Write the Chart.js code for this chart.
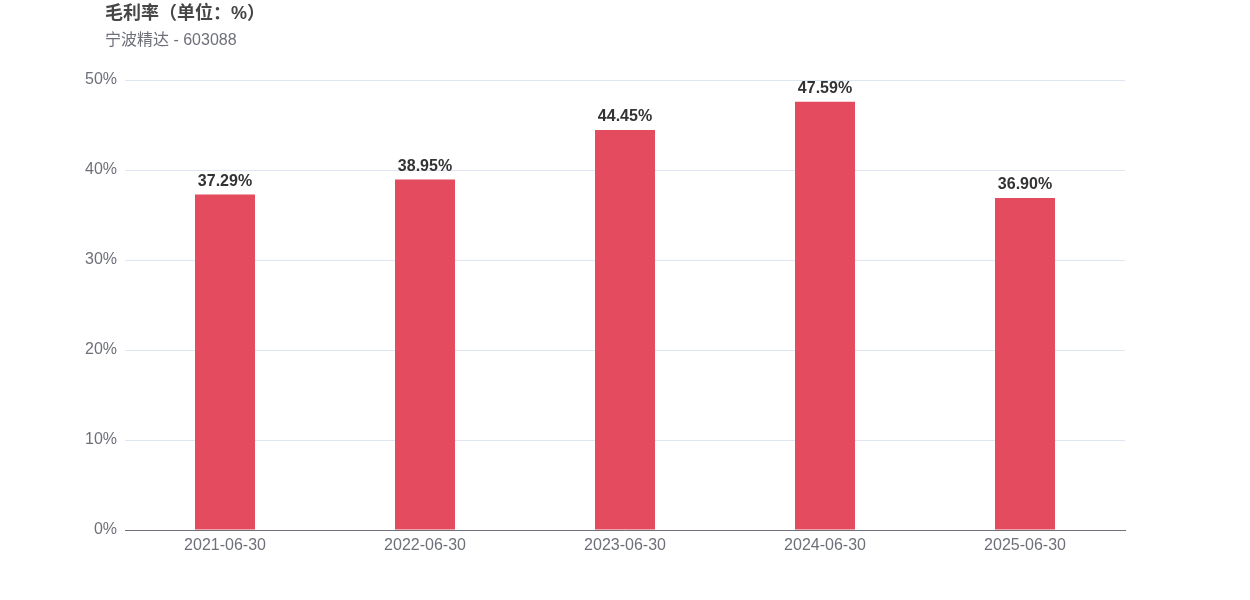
<html lang="zh">
<head>
<meta charset="UTF-8">
<title>毛利率</title>
<script src="https://cdn.jsdelivr.net/npm/chart.js"></script>
<style>
  body { margin: 0; background: #fff; }
</style>
</head>
<body>
<canvas id="myChart" width="1250" height="600"></canvas>
<script>
const categories = ['2021-06-30', '2022-06-30', '2023-06-30', '2024-06-30', '2025-06-30'];
const grossMargin = [37.29, 38.95, 44.45, 47.59, 36.90];
const yTicks = [0, 10, 20, 30, 40, 50];
const titleText = '毛利率（单位：%）';
const subtitleText = '宁波精达 - 603088';

const FONT = '"Liberation Sans", Arial, "Noto Sans CJK SC", sans-serif';

// 标题 + 柱顶数值
const labelsPlugin = {
  id: 'labels',
  afterDraw(chart) {
    const ctx = chart.ctx;
    ctx.save();
    ctx.textAlign = 'left';
    ctx.textBaseline = 'middle';
    ctx.fillStyle = '#464646';
    ctx.font = 'bold 18px ' + FONT;
    ctx.fillText(titleText, 105, 14);
    ctx.fillStyle = '#6e7079';
    ctx.font = '16px ' + FONT;
    ctx.fillText(subtitleText, 105, 41);

    const meta = chart.getDatasetMeta(0);
    ctx.textAlign = 'center';
    ctx.fillStyle = '#333';
    ctx.font = 'bold 16px ' + FONT;
    meta.data.forEach((bar, i) => {
      ctx.fillText(grossMargin[i].toFixed(2) + '%', bar.x, bar.y - 13);
    });
    ctx.restore();
  }
};

new Chart(document.getElementById('myChart').getContext('2d'), {
  type: 'bar',
  data: {
    labels: categories,
    datasets: [{
      data: grossMargin,
      backgroundColor: '#e54b5e',
      categoryPercentage: 1,
      barPercentage: 0.3
    }]
  },
  options: {
    responsive: false,
    animation: false,
    layout: { padding: { top: 80, right: 125, bottom: 0, left: 0 } },
    plugins: { legend: { display: false }, tooltip: { enabled: false } },
    scales: {
      x: {
        grid: { display: false, drawTicks: false },
        border: { color: '#6e7079', width: 1 },
        ticks: { color: '#6e7079', font: { size: 16, family: FONT }, padding: 6, maxRotation: 0 },
        afterFit(scale) { scale.height = 70; }
      },
      y: {
        min: 0,
        max: 50,
        afterBuildTicks(scale) { scale.ticks = yTicks.map(v => ({ value: v })); },
        grid: { color: '#e0e6f1', drawTicks: false },
        border: { display: false },
        ticks: {
          color: '#6e7079',
          font: { size: 16, family: FONT },
          padding: 8,
          callback: v => v + '%'
        },
        afterFit(scale) { scale.width = 125; }
      }
    }
  },
  plugins: [labelsPlugin]
});
</script>
</body>
</html>
